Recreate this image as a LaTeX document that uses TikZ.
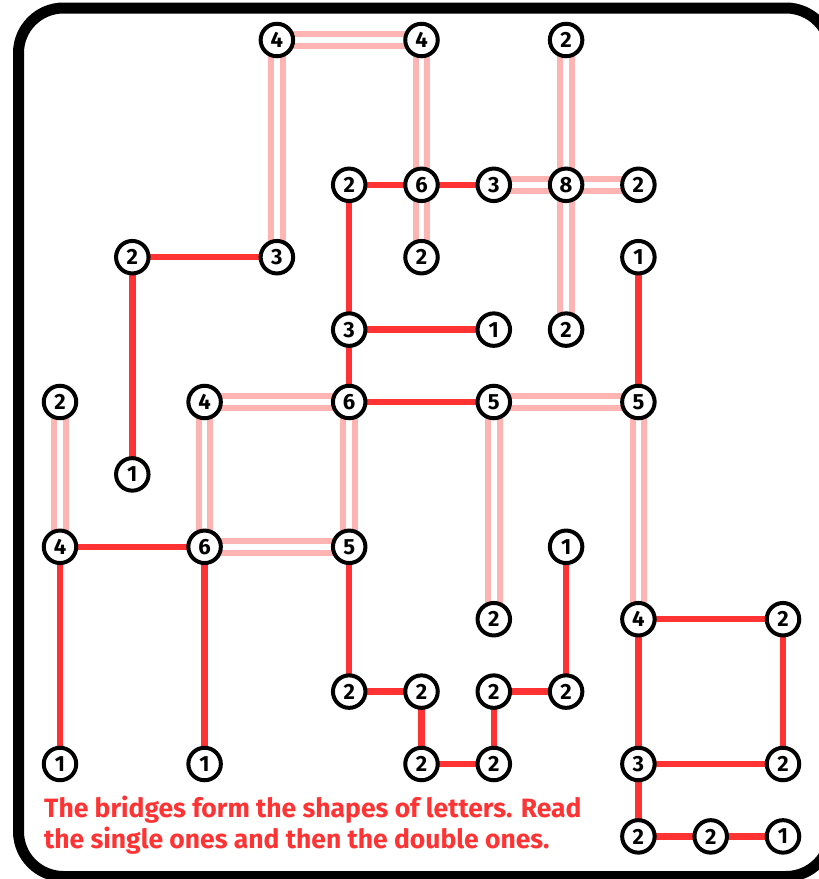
\documentclass[tikz,border=0pt]{standalone}
\usepackage{fontspec}
\setmainfont{Fira Sans}
\usetikzlibrary{backgrounds}
\definecolor{bred}{RGB}{255,51,51}
\definecolor{bpink}{RGB}{255,180,180}
\tikzset{
  isl/.style={circle,draw=black,fill=white,line width=4pt,minimum size=32.5pt,inner sep=0pt,font=\fontsize{22}{22}\selectfont\bfseries},
  single/.style={draw=bred,line width=6.5pt},
  dbl/.style={draw=bpink,line width=6pt,double=white,double distance=5.5pt},
}
\begin{document}
\begin{tikzpicture}[x=1pt,y=-1pt]
\useasboundingbox (0,0) rectangle (819,879);
\draw[line width=11pt,rounded corners=45pt] (18.5,8) rectangle (831,876.5);
\foreach \c/\r/\v in {3/0/4, 5/0/4, 7/0/2, 4/2/2, 5/2/6, 6/2/3, 7/2/8, 8/2/2, 1/3/2, 3/3/3, 5/3/2, 8/3/1, 4/4/3, 6/4/1, 7/4/2, 0/5/2, 2/5/4, 4/5/6, 6/5/5, 8/5/5, 1/6/1, 0/7/4, 2/7/6, 4/7/5, 7/7/1, 6/8/2, 8/8/4, 10/8/2, 4/9/2, 5/9/2, 6/9/2, 7/9/2, 0/10/1, 2/10/1, 5/10/2, 6/10/2, 8/10/3, 10/10/2, 8/11/2, 9/11/2, 10/11/1}
  \node[isl] (n\c-\r) at ({60+72.3*\c},{40+72.4*\r}) {\v};
\begin{scope}[on background layer]
\foreach \a/\b in {4-2/5-2, 5-2/6-2, 1-3/3-3, 1-3/1-6, 4-2/4-4, 4-4/6-4, 4-4/4-5, 4-5/6-5, 8-3/8-5, 0-7/2-7, 0-7/0-10, 2-7/2-10, 4-7/4-9, 4-9/5-9, 5-9/5-10, 5-10/6-10, 6-10/6-9, 6-9/7-9, 7-9/7-7, 8-8/10-8, 10-8/10-10, 8-8/8-10, 8-10/10-10, 8-10/8-11, 8-11/9-11, 9-11/10-11}
  \draw[single] (n\a.center) -- (n\b.center);
\foreach \a/\b in {3-0/5-0, 3-0/3-3, 5-0/5-2, 5-2/5-3, 6-2/7-2, 7-2/8-2, 7-0/7-2, 7-2/7-4, 2-5/4-5, 2-5/2-7, 4-5/4-7, 2-7/4-7, 0-5/0-7, 6-5/8-5, 6-5/6-8, 8-5/8-8}
  \draw[dbl] (n\a.center) -- (n\b.center);
\end{scope}
\node[anchor=base west,align=left,text=bred,inner sep=0pt,font=\fontsize{26.5}{31}\selectfont\bfseries] (note) at (44,848.3) {The bridges form the shapes of letters. Read\\the single ones and then the double ones.};
\end{tikzpicture}
\end{document}
